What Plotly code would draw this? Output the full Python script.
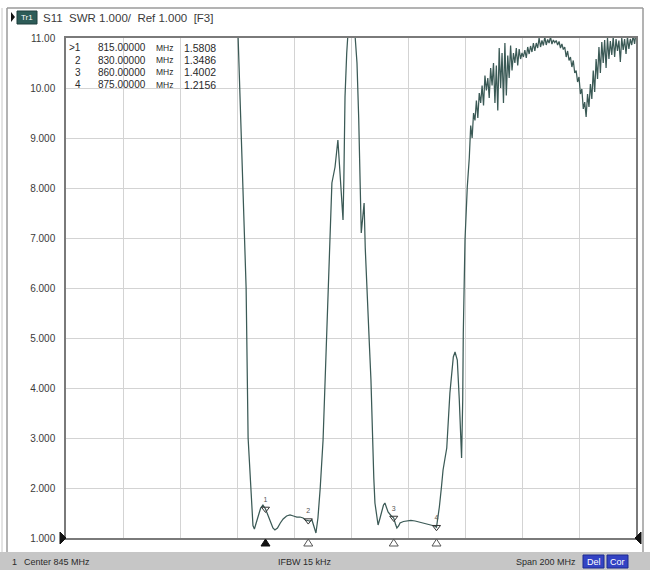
import plotly.graph_objects as go

# ---- S11 SWR sweep, 745-945 MHz ----
freq_mhz = [
    745.0, 760.0, 775.0, 790.0, 800.0, 804.0, 805.4, 806.6, 807.4, 808.2,
    808.9, 810.0, 810.6, 811.1, 811.8, 812.5, 813.3, 814.1, 815.0, 815.9,
    816.8, 817.6, 818.3, 819.2, 820.2, 821.2, 822.4, 823.6, 824.8, 826.0,
    827.1, 828.2, 829.0, 830.0, 830.6, 831.3, 832.0, 832.7, 833.4, 834.2,
    835.2, 836.1, 837.0, 837.7, 838.3, 839.4, 840.0, 840.4, 840.8, 841.3,
    841.8, 842.2, 842.5, 842.9, 843.5, 843.9, 844.5, 845.5, 846.4, 847.1,
    847.7, 848.2, 848.6, 849.1, 849.6, 850.0, 850.7, 851.5, 852.0, 852.7,
    853.0, 853.4, 854.0, 854.5, 855.2, 855.8, 856.4, 856.9, 857.5, 858.0,
    859.0, 860.0, 860.6, 861.1, 861.7, 862.2, 863.4, 864.6, 866.0, 867.5,
    869.0, 870.3, 871.8, 873.4, 874.3, 875.0, 875.5, 876.0, 876.7, 877.3,
    878.0, 878.6, 879.7, 880.9, 881.5, 882.3, 883.0, 883.8, 884.2, 884.4,
    885.0, 885.8, 886.5,
    887.0, 887.5, 888.0, 888.5, 889.0, 889.5, 890.0, 890.5, 891.0, 891.5,
    892.0, 892.5, 893.0, 893.5, 894.0, 894.5, 895.0, 895.5, 896.0, 896.5,
    897.0, 897.5, 898.0, 898.5, 899.0, 899.5, 900.0, 900.5, 901.0, 901.5,
    902.0, 902.5, 903.0, 903.5, 904.0, 904.5, 905.0, 905.5, 906.0, 906.5,
    907.0, 907.5, 908.0, 908.5, 909.0, 909.5, 910.0, 910.5, 911.0, 911.5,
    912.0, 912.5, 913.0, 913.5, 914.0, 914.5, 915.0, 915.5, 916.0, 916.5,
    917.0, 917.5, 918.0, 918.5, 919.0, 919.5, 920.0, 920.5, 921.0, 921.5,
    922.0, 922.5, 923.0, 923.5, 924.0, 924.5, 925.0, 925.5, 926.0, 926.5,
    927.0, 927.5, 928.0, 928.5, 929.0, 929.5, 930.0, 930.5, 931.0, 931.5,
    932.0, 932.5, 933.0, 933.5, 934.0, 934.5, 935.0, 935.5, 936.0, 936.5,
    937.0, 937.5, 938.0, 938.5, 939.0, 939.5, 940.0, 940.5, 941.0, 941.5,
    942.0, 942.5, 943.0, 943.5, 944.0, 944.5, 945.0,
]
swr = [
    24.0, 21.0, 18.0, 15.0, 12.6, 11.5, 11.0, 8.96, 7.4, 6.0,
    3.0, 1.7, 1.25, 1.18, 1.3, 1.45, 1.6, 1.66, 1.5808, 1.45,
    1.3, 1.2, 1.16, 1.2, 1.3, 1.38, 1.44, 1.46, 1.44, 1.42,
    1.42, 1.40, 1.36, 1.3486, 1.34, 1.36, 1.22, 1.10, 1.4, 2.0,
    2.96, 4.5, 6.02, 7.2, 8.1, 8.42, 8.7, 8.96, 8.6, 8.1,
    7.6, 7.36, 8.2, 9.82, 10.7, 11.0, 11.6, 11.8, 11.0, 10.5,
    9.4, 8.36, 7.1, 7.4, 7.7, 6.8, 6.0, 4.8, 4.16, 2.56,
    2.2, 1.7, 1.4, 1.26, 1.4, 1.56, 1.66, 1.7, 1.62, 1.52,
    1.45, 1.4002, 1.28, 1.2, 1.24, 1.3, 1.33, 1.34, 1.35, 1.34,
    1.32, 1.30, 1.28, 1.26, 1.24, 1.2156, 1.4, 1.62, 2.0, 2.36,
    2.6, 2.8, 3.9, 4.62, 4.72, 4.56, 3.76, 2.6, 3.76, 5.1,
    6.96, 8.02, 8.6,
    9.25, 9.00, 9.50, 9.35, 9.75, 9.40, 9.90, 9.70, 10.05, 9.65,
    10.25, 9.95, 10.20, 9.80, 10.40, 10.05, 10.50, 9.70, 10.45, 9.55,
    10.80, 10.00, 10.70, 9.70, 10.90, 9.85, 10.65, 10.20, 10.85, 10.35,
    10.70, 10.50, 10.80, 10.45, 10.78, 10.58, 10.70, 10.62, 10.76, 10.60,
    10.82, 10.68, 10.84, 10.72, 10.90, 10.74, 10.90, 10.80, 11.00, 10.82,
    10.95, 10.85, 11.02, 10.86, 10.97, 10.90, 11.02, 10.88, 10.96, 10.91,
    10.95, 10.86, 10.93, 10.80, 10.88, 10.77, 10.82, 10.62, 10.74, 10.55,
    10.62, 10.42, 10.55, 10.30, 10.35, 10.12, 10.22, 9.88, 9.98, 9.58,
    9.72, 9.42, 9.88, 9.62, 10.08, 9.78, 10.35, 9.92, 10.58, 10.18,
    10.82, 10.30, 10.92, 10.50, 10.96, 10.40, 11.00, 10.58, 10.94, 10.66,
    11.02, 10.62, 10.98, 10.74, 10.95, 10.52, 11.00, 10.76, 10.98, 10.68,
    11.02, 10.78, 10.98, 10.86, 11.05, 10.88, 11.10,
]

# ---- markers ----
marker_ids = ["1", "2", "3", "4"]
marker_freq = [815.0, 830.0, 860.0, 875.0]
marker_swr = [1.5808, 1.3486, 1.4002, 1.2156]
active_marker = 0

# ---- axes / annotation text ----
center_mhz = 845
span_mhz = 200
start_mhz = center_mhz - span_mhz / 2
stop_mhz = center_mhz + span_mhz / 2
y_tick_vals = [1, 2, 3, 4, 5, 6, 7, 8, 9, 10, 11]
y_tick_text = ["1.000", "2.000", "3.000", "4.000", "5.000", "6.000",
               "7.000", "8.000", "9.000", "10.00", "11.00"]
header_text = "S11  SWR 1.000/  Ref 1.000  [F3]"
status_left = "Center 845 MHz"
status_mid = "IFBW 15 kHz"
status_right = "Span 200 MHz"
status_flags = ["Del", "Cor"]

W, H = 650, 570
ML, MR, MT, MB = 66, 14, 38, 32
PW, PH = W - ML - MR, H - MT - MB

FONT = "Liberation Sans, DejaVu Sans, sans-serif"
TRACE = "#3b5a56"
INK = "#2a2a2a"


def px(x):
    return (x - ML) / PW


def py(y):
    return (H - MB - y) / PH


fig = go.Figure()

# SWR trace
fig.add_trace(go.Scatter(
    x=freq_mhz, y=swr, mode="lines",
    line=dict(color=TRACE, width=1.25), hoverinfo="skip", showlegend=False,
))

# markers on the trace
fig.add_trace(go.Scatter(
    x=marker_freq, y=marker_swr, mode="markers+text",
    text=marker_ids, textposition="top center",
    textfont=dict(family=FONT, size=7, color="#555555"),
    marker=dict(symbol="triangle-down-open", size=7,
                color="#333333", line=dict(width=1)),
    cliponaxis=False, showlegend=False, hoverinfo="skip",
))

shapes = []
annotations = []

# stimulus triangles under the baseline (x in MHz, size in pixels)
for i, f in enumerate(marker_freq):
    active = i == active_marker
    shapes.append(dict(
        type="path", xref="x", yref="paper",
        xsizemode="pixel", xanchor=f, ysizemode="pixel", yanchor=0,
        path="M -4.5 -8 L 4.5 -8 L 0 -1 Z",
        fillcolor="#111111" if active else "white",
        line=dict(color="#111111" if active else "#555555", width=1),
    ))

# reference level arrows at both plot edges
shapes.append(dict(type="path", xref="paper", yref="paper",
                   xsizemode="pixel", xanchor=0, ysizemode="pixel", yanchor=0,
                   path="M -6 6 L 0 0 L -6 -6 Z",
                   fillcolor="#111111", line=dict(color="#111111", width=1)))
shapes.append(dict(type="path", xref="paper", yref="paper",
                   xsizemode="pixel", xanchor=1, ysizemode="pixel", yanchor=0,
                   path="M 5 6 L -1 0 L 5 -6 Z",
                   fillcolor="#111111", line=dict(color="#111111", width=1)))

# window frame
shapes.append(dict(type="line", xref="paper", yref="paper",
                   x0=px(7), x1=px(643), y0=py(8), y1=py(8),
                   line=dict(color="#9a9a9a", width=1.5)))
shapes.append(dict(type="line", xref="paper", yref="paper",
                   x0=px(7), x1=px(7), y0=py(8), y1=py(552),
                   line=dict(color="#9a9a9a", width=1.5)))
shapes.append(dict(type="line", xref="paper", yref="paper",
                   x0=px(643), x1=px(643), y0=py(8), y1=py(552),
                   line=dict(color="#9a9a9a", width=1.5)))
shapes.append(dict(type="line", xref="paper", yref="paper",
                   x0=px(2), x1=px(2), y0=py(8), y1=py(552),
                   line=dict(color="#c8c8c8", width=1)))

# status bar
shapes.append(dict(type="rect", xref="paper", yref="paper",
                   x0=px(0), x1=px(650), y0=py(570), y1=py(552),
                   fillcolor="#c6c6c6", line=dict(width=0)))

# status flag boxes
flag_x = [583, 607]
for fx, label in zip(flag_x, status_flags):
    shapes.append(dict(type="rect", xref="paper", yref="paper",
                       x0=px(fx), x1=px(fx + 21), y0=py(568), y1=py(555),
                       fillcolor="#3343c4", line=dict(color="#1d2a90", width=1)))
    annotations.append(dict(xref="paper", yref="paper", x=px(fx + 10.5), y=py(561.5),
                            text=label, showarrow=False, xanchor="center",
                            yanchor="middle",
                            font=dict(family=FONT, size=9, color="white")))

# trace icon in the header
shapes.append(dict(type="path", xref="paper", yref="paper",
                   path=f"M {px(11)} {py(12)} L {px(15)} {py(17)} L {px(11)} {py(22)} Z",
                   fillcolor="#111111", line=dict(width=0)))
shapes.append(dict(type="rect", xref="paper", yref="paper",
                   x0=px(17), x1=px(37), y0=py(24), y1=py(11),
                   fillcolor="#2d5c58", line=dict(color="#1f3f3c", width=1)))
annotations.append(dict(xref="paper", yref="paper", x=px(27), y=py(17.5),
                        text="Tr1", showarrow=False, xanchor="center",
                        yanchor="middle",
                        font=dict(family=FONT, size=8, color="white")))

# header text
annotations.append(dict(xref="paper", yref="paper", x=px(41), y=py(17.5),
                        text=header_text, showarrow=False, xanchor="left",
                        yanchor="middle",
                        font=dict(family=FONT, size=11.5, color="#3a3a3a")))

# marker readout table
row_y = [47.5, 60, 72.5, 85]
for i, (mid, f, v) in enumerate(zip(marker_ids, marker_freq, marker_swr)):
    tag = (">" + mid) if i == active_marker else mid
    annotations.append(dict(xref="paper", yref="paper", x=px(83), y=py(row_y[i]),
                            text=tag, showarrow=False, xanchor="right",
                            yanchor="middle",
                            font=dict(family=FONT, size=10, color=INK)))
    annotations.append(dict(xref="paper", yref="paper", x=px(148), y=py(row_y[i]),
                            text=f"{f:.5f}", showarrow=False, xanchor="right",
                            yanchor="middle",
                            font=dict(family=FONT, size=10, color=INK)))
    annotations.append(dict(xref="paper", yref="paper", x=px(154), y=py(row_y[i]),
                            text="MHz", showarrow=False, xanchor="left",
                            yanchor="middle",
                            font=dict(family=FONT, size=8.5, color=INK)))
    annotations.append(dict(xref="paper", yref="paper", x=px(182), y=py(row_y[i]),
                            text=f"{v:.4f}", showarrow=False, xanchor="left",
                            yanchor="middle",
                            font=dict(family=FONT, size=10.5, color=INK)))

# status bar text
annotations.append(dict(xref="paper", yref="paper", x=px(10), y=py(561.5),
                        text="1", showarrow=False, xanchor="left", yanchor="middle",
                        font=dict(family=FONT, size=9, color=INK)))
annotations.append(dict(xref="paper", yref="paper", x=px(22), y=py(561.5),
                        text=status_left, showarrow=False, xanchor="left",
                        yanchor="middle",
                        font=dict(family=FONT, size=9, color=INK)))
annotations.append(dict(xref="paper", yref="paper", x=px(305), y=py(561.5),
                        text=status_mid, showarrow=False, xanchor="center",
                        yanchor="middle",
                        font=dict(family=FONT, size=9, color=INK)))
annotations.append(dict(xref="paper", yref="paper", x=px(578), y=py(561.5),
                        text=status_right, showarrow=False, xanchor="right",
                        yanchor="middle",
                        font=dict(family=FONT, size=9, color=INK)))

fig.update_layout(
    width=W, height=H, autosize=False,
    margin=dict(l=ML, r=MR, t=MT, b=MB, pad=0),
    paper_bgcolor="white", plot_bgcolor="white",
    showlegend=False,
    shapes=shapes, annotations=annotations,
    xaxis=dict(
        range=[start_mhz, stop_mhz], tick0=start_mhz, dtick=span_mhz / 10,
        showgrid=True, gridcolor="#d3d3d3", gridwidth=1,
        showticklabels=False, ticks="", zeroline=False,
        showline=True, linecolor="#7a7a7a", linewidth=1.5, mirror=True,
        fixedrange=True,
    ),
    yaxis=dict(
        range=[1, 11], tickvals=y_tick_vals, ticktext=y_tick_text,
        showgrid=True, gridcolor="#d3d3d3", gridwidth=1,
        ticks="", zeroline=False, ticklabelstandoff=7,
        tickfont=dict(family=FONT, size=10, color="#3a3a3a"),
        showline=True, linecolor="#7a7a7a", linewidth=1.5, mirror=True,
        fixedrange=True,
    ),
)

fig.write_html("out.html", config={"displayModeBar": False})
